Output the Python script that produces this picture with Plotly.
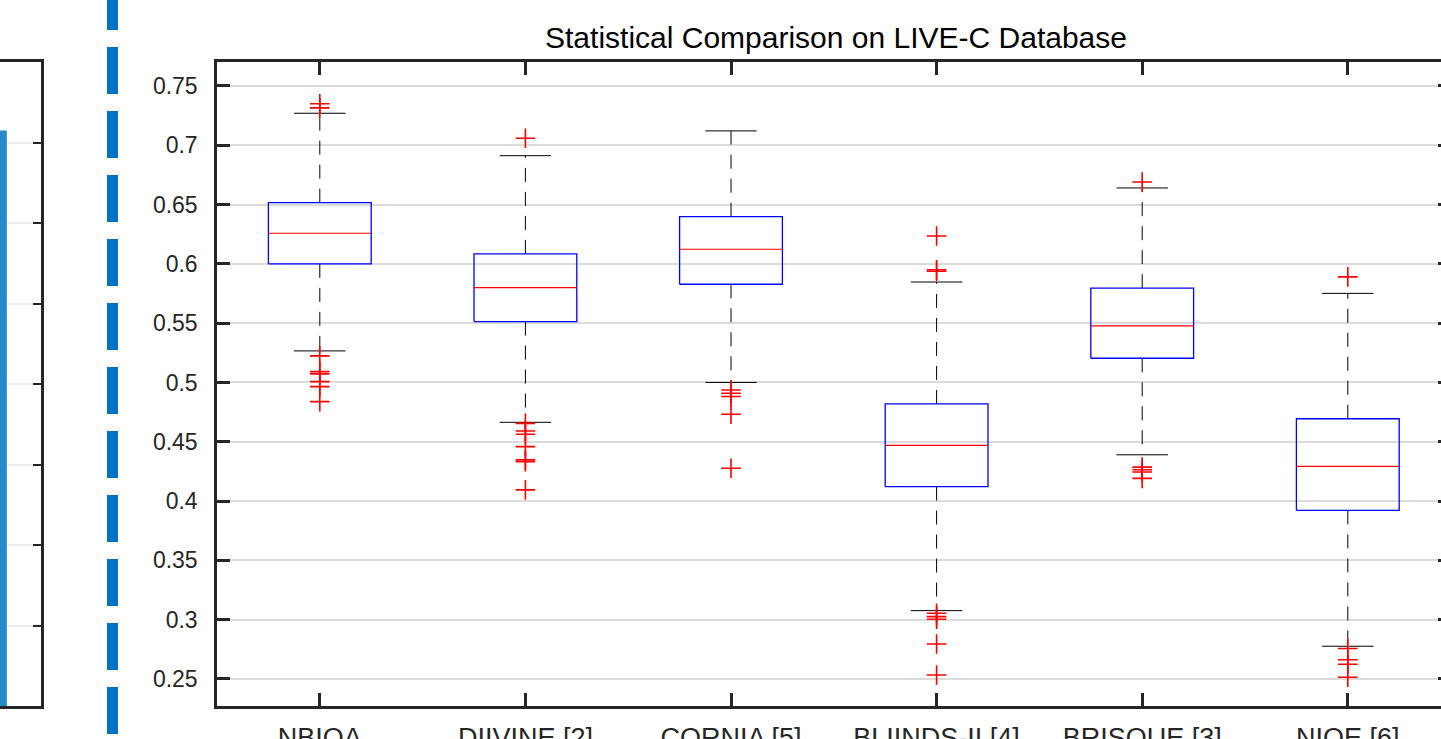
import plotly.graph_objects as go

# ---------------- data ----------------
categories = ["NBIQA", "DIIVINE [2]", "CORNIA [5]", "BLIINDS-II [4]", "BRISQUE [3]", "NIQE [6]"]
positions = [1, 2, 3, 4, 5, 6]
q1 = [0.6000, 0.5513, 0.5828, 0.4122, 0.5204, 0.3921]
median = [0.6258, 0.5800, 0.6123, 0.4470, 0.5477, 0.4292]
q3 = [0.6516, 0.6084, 0.6398, 0.4819, 0.5795, 0.4694]
upper_whisker = [0.7270, 0.6912, 0.7121, 0.5847, 0.6640, 0.5751]
lower_whisker = [0.5266, 0.4664, 0.5000, 0.3076, 0.4390, 0.2776]
outliers = [
    [0.7350, 0.7315, 0.5224, 0.5091, 0.5072, 0.5007, 0.4965, 0.4838],
    [0.7059, 0.4655, 0.4591, 0.4563, 0.4459, 0.4347, 0.4332, 0.4094],
    [0.4937, 0.4909, 0.4881, 0.4732, 0.4276],
    [0.6235, 0.5950, 0.5938, 0.3054, 0.3026, 0.3004, 0.2795, 0.2534],
    [0.6690, 0.4286, 0.4264, 0.4245, 0.4191],
    [0.5890, 0.2757, 0.2662, 0.2624, 0.2514],
]
ytick_vals = [0.25, 0.30, 0.35, 0.40, 0.45, 0.50, 0.55, 0.60, 0.65, 0.70, 0.75]
ytick_text = ["0.25", "0.3", "0.35", "0.4", "0.45", "0.5", "0.55", "0.6", "0.65", "0.7", "0.75"]

# neighbouring (cropped) panel on the left
left_panel_bar = [7.15]
left_panel_ticks = [1, 2, 3, 4, 5, 6, 7]

# ---------------- style ----------------
W, H = 1441, 739
BOX_HALF = 0.25
CAP_HALF = 0.125
AX = "#262626"
FONT = "Liberation Sans, Arial, Helvetica, sans-serif"

# build geometry from data
bx, by, mx, my, wx, wy, cx, cy, ox, oy = [], [], [], [], [], [], [], [], [], []
for p, a, m, b, uw, lw, outs in zip(positions, q1, median, q3, upper_whisker, lower_whisker, outliers):
    bx += [p - BOX_HALF, p + BOX_HALF, p + BOX_HALF, p - BOX_HALF, p - BOX_HALF, None]
    by += [a, a, b, b, a, None]
    mx += [p - BOX_HALF, p + BOX_HALF, None]
    my += [m, m, None]
    wx += [p, p, None, p, p, None]
    wy += [b, uw, None, a, lw, None]
    cx += [p - CAP_HALF, p + CAP_HALF, None, p - CAP_HALF, p + CAP_HALF, None]
    cy += [uw, uw, None, lw, lw, None]
    ox += [p] * len(outs)
    oy += outs

fig = go.Figure()
fig.add_trace(go.Scatter(x=wx, y=wy, mode="lines", line=dict(color="black", width=1, dash="14px,10px"),
                         hoverinfo="skip"))
fig.add_trace(go.Scatter(x=cx, y=cy, mode="lines", line=dict(color="black", width=1), hoverinfo="skip"))
fig.add_trace(go.Scatter(x=bx, y=by, mode="lines", line=dict(color="#0000ff", width=1.3), hoverinfo="skip"))
fig.add_trace(go.Scatter(x=mx, y=my, mode="lines", line=dict(color="#ff0000", width=1.2), hoverinfo="skip"))
fig.add_trace(go.Scatter(x=ox, y=oy, mode="markers",
                         marker=dict(symbol="cross-thin", size=14, color="#ff0000",
                                     line=dict(width=1.6, color="#ff0000"))))
# invisible trace for right-side ticks
fig.add_trace(go.Scatter(x=[None], y=[None], yaxis="y2", showlegend=False))

# left cropped panel
fig.add_trace(go.Bar(x=[0], y=left_panel_bar, width=0.8, marker=dict(color="#2787c8", line=dict(width=0)),
                     xaxis="x3", yaxis="y3"))

ydom = [33 / H, 677 / H]
xdom = [217 / W, 1.0]
x_range = [0.5, 0.5 + (W - 217) / 205.6]
y_range = [0.2272, 0.7702]

fig.update_layout(
    width=W, height=H,
    margin=dict(l=0, r=0, t=0, b=0),
    paper_bgcolor="white", plot_bgcolor="white",
    showlegend=False,
    font=dict(family=FONT, color=AX, size=23),
    title=dict(text="Statistical Comparison on LIVE-C Database", x=836 / W, xref="paper", xanchor="center",
               y=1 - 37 / H, yref="container", yanchor="middle",
               font=dict(family=FONT, size=30, color="#000000")),
    xaxis=dict(domain=xdom, range=x_range, tickvals=positions, ticktext=categories,
               showline=True, linecolor=AX, linewidth=2.5, mirror="ticks",
               ticks="inside", ticklen=13, tickwidth=2.5, tickcolor=AX,
               showgrid=False, zeroline=False, automargin=False, ticklabelstandoff=6,
               tickfont=dict(size=27, color=AX, family=FONT)),
    yaxis=dict(domain=ydom, range=y_range, tickvals=ytick_vals, ticktext=ytick_text,
               showline=True, linecolor=AX, linewidth=2.5, mirror=False,
               ticks="inside", ticklen=13, tickwidth=2.5, tickcolor=AX,
               showgrid=True, gridcolor="#dcdcdc", gridwidth=2.2, zeroline=False,
               automargin=False, ticklabelstandoff=12,
               tickfont=dict(size=23, color=AX, family=FONT)),
    yaxis2=dict(overlaying="y", side="right", anchor="x", range=y_range, tickvals=ytick_vals,
                showticklabels=False, ticks="inside", ticklen=3, tickwidth=2.5, tickcolor=AX,
                showline=False, showgrid=False, zeroline=False),
    xaxis3=dict(domain=[0, 41 / W], anchor="y3", range=[0.3, 0.9], showline=True, mirror=True,
                linecolor=AX, linewidth=2.5, showticklabels=False, ticks="", showgrid=False, zeroline=False),
    yaxis3=dict(domain=ydom, anchor="x3", side="right", range=[0, 8], tickvals=left_panel_ticks,
                showticklabels=False, ticks="inside", ticklen=8, tickwidth=2, tickcolor=AX,
                showline=True, linecolor=AX, linewidth=2.5, showgrid=True, gridcolor="#ececec",
                gridwidth=1.5, zeroline=False),
    shapes=[dict(type="line", xref="paper", yref="paper", x0=112.5 / W, x1=112.5 / W,
                 y0=1 + 17 / H, y1=-0.05, line=dict(color="#0072c6", width=11, dash="47px,17px"))],
)

fig.write_html("out.html", config={"displayModeBar": False},
               post_script="document.body.style.margin='0';document.body.style.overflow='hidden';")
